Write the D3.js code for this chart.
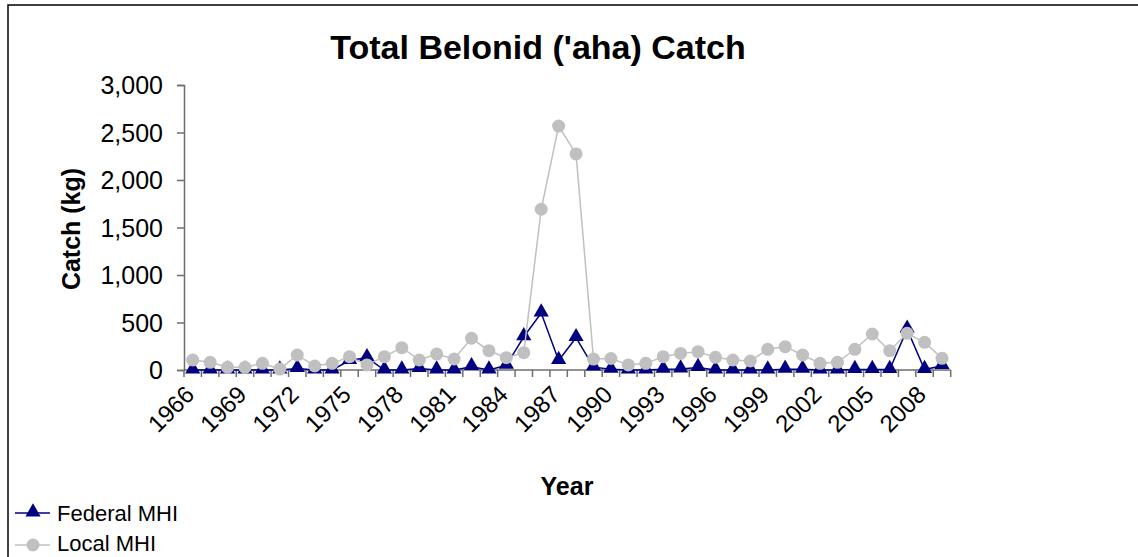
<!DOCTYPE html>
<html><head><meta charset="utf-8">
<script src="https://cdn.jsdelivr.net/npm/d3@7"></script>
<style>body{margin:0;background:#fff}svg{display:block}text{font-family:Arial,"Liberation Sans",sans-serif}</style>
</head><body>
<script>
const years = d3.range(1966, 2010);
const federalMHI = [0,0,0,0,0,0,15,0,0,100,130,0,0,15,0,0,35,0,50,350,600,100,340,30,8,0,0,8,10,25,0,0,0,0,8,8,0,0,5,5,5,430,5,45];
const localMHI = [105,81,28,28,70,10,158,42,70,140,53,140,235,105,168,116,334,203,130,182,1692,2568,2274,115,121,53,70,140,175,193,133,105,95,218,246,158,70,81,218,379,203,386,291,123];
const yTicks = [0,500,1000,1500,2000,2500,3000];
const xTickLabels = years.filter((y,i)=>i%3===0);

const W=1138,H=557;
const svg=d3.select("body").append("svg").attr("width",W).attr("height",H);
svg.append("rect").attr("x",8).attr("y",5).attr("width",1300).attr("height",700).attr("fill","none").attr("stroke","#000").attr("stroke-width",1.5);

const x0=184,x1=950.7,y0=370,y1=85;
const x=d3.scaleBand().domain(years).range([x0,x1]);
const y=d3.scaleLinear().domain([0,3000]).range([y0,y1]);
const axisColor="#6e6e6e";

// title
svg.append("text").attr("x",538).attr("y",59).attr("text-anchor","middle").attr("font-weight","bold").attr("font-size",34).text("Total Belonid ('aha) Catch");

// y axis
const ya=svg.append("g").attr("transform",`translate(${x0},0)`).call(d3.axisLeft(y).tickValues(yTicks).tickSize(7).tickPadding(14).tickFormat(d3.format(",")));
ya.select(".domain").attr("stroke",axisColor).attr("stroke-width",1.5);
ya.selectAll(".tick line").attr("stroke",axisColor).attr("stroke-width",1.5);
ya.selectAll(".tick text").attr("font-size",25).attr("fill","#000").attr("font-family","Arial, 'Liberation Sans', sans-serif").attr("dy","0.35em");

// x axis: domain + ticks at boundaries
const xa=svg.append("g");
xa.append("line").attr("x1",x0).attr("x2",x1).attr("y1",y0).attr("y2",y0).attr("stroke",axisColor).attr("stroke-width",1.5);
const bounds=years.map(yr=>x(yr)).concat([x1]);
xa.selectAll("line.tk").data(bounds).join("line").attr("class","tk").attr("x1",d=>d).attr("x2",d=>d).attr("y1",y0).attr("y2",y0+7).attr("stroke",axisColor).attr("stroke-width",1.5);
xa.selectAll("text").data(xTickLabels).join("text")
  .attr("transform",d=>`translate(${x(d)+x.bandwidth()/2+3},${y0+26}) rotate(-45)`)
  .attr("text-anchor","end").attr("font-size",24).text(d=>d);

// axis titles
svg.append("text").attr("transform","translate(80,229) rotate(-90)").attr("text-anchor","middle").attr("font-weight","bold").attr("font-size",25).text("Catch (kg)");
svg.append("text").attr("x",567).attr("y",495).attr("text-anchor","middle").attr("font-weight","bold").attr("font-size",25).text("Year");

const cx=d=>x(d)+x.bandwidth()/2;
const line=d3.line().x((d,i)=>cx(years[i])).y(d=>y(d));
const tri=d3.symbol().type(d3.symbolTriangle).size(100);

// federal
svg.append("path").datum(federalMHI).attr("d",line).attr("fill","none").attr("stroke","#000080").attr("stroke-width",1.5);
svg.selectAll("path.fed").data(federalMHI).join("path").attr("class","fed").attr("d",tri).attr("transform",(d,i)=>`translate(${cx(years[i])},${y(d)-1})`).attr("fill","#000080");
// local
svg.append("path").datum(localMHI).attr("d",line).attr("fill","none").attr("stroke","#c0c0c0").attr("stroke-width",1.5);
svg.selectAll("circle.loc").data(localMHI).join("circle").attr("class","loc").attr("cx",(d,i)=>cx(years[i])).attr("cy",d=>y(d)).attr("r",6.5).attr("fill","#c0c0c0");

// legend
const lg=svg.append("g");
lg.append("line").attr("x1",15).attr("x2",50).attr("y1",513).attr("y2",513).attr("stroke","#000080").attr("stroke-width",1.5);
lg.append("path").attr("d",tri).attr("transform","translate(33,512)").attr("fill","#000080");
lg.append("text").attr("x",57).attr("y",521).attr("font-size",22).text("Federal MHI");
lg.append("line").attr("x1",15).attr("x2",50).attr("y1",545).attr("y2",545).attr("stroke","#c0c0c0").attr("stroke-width",1.5);
lg.append("circle").attr("cx",33).attr("cy",545).attr("r",6.5).attr("fill","#c0c0c0");
lg.append("text").attr("x",57).attr("y",551).attr("font-size",22).text("Local MHI");
</script>
</body></html>
